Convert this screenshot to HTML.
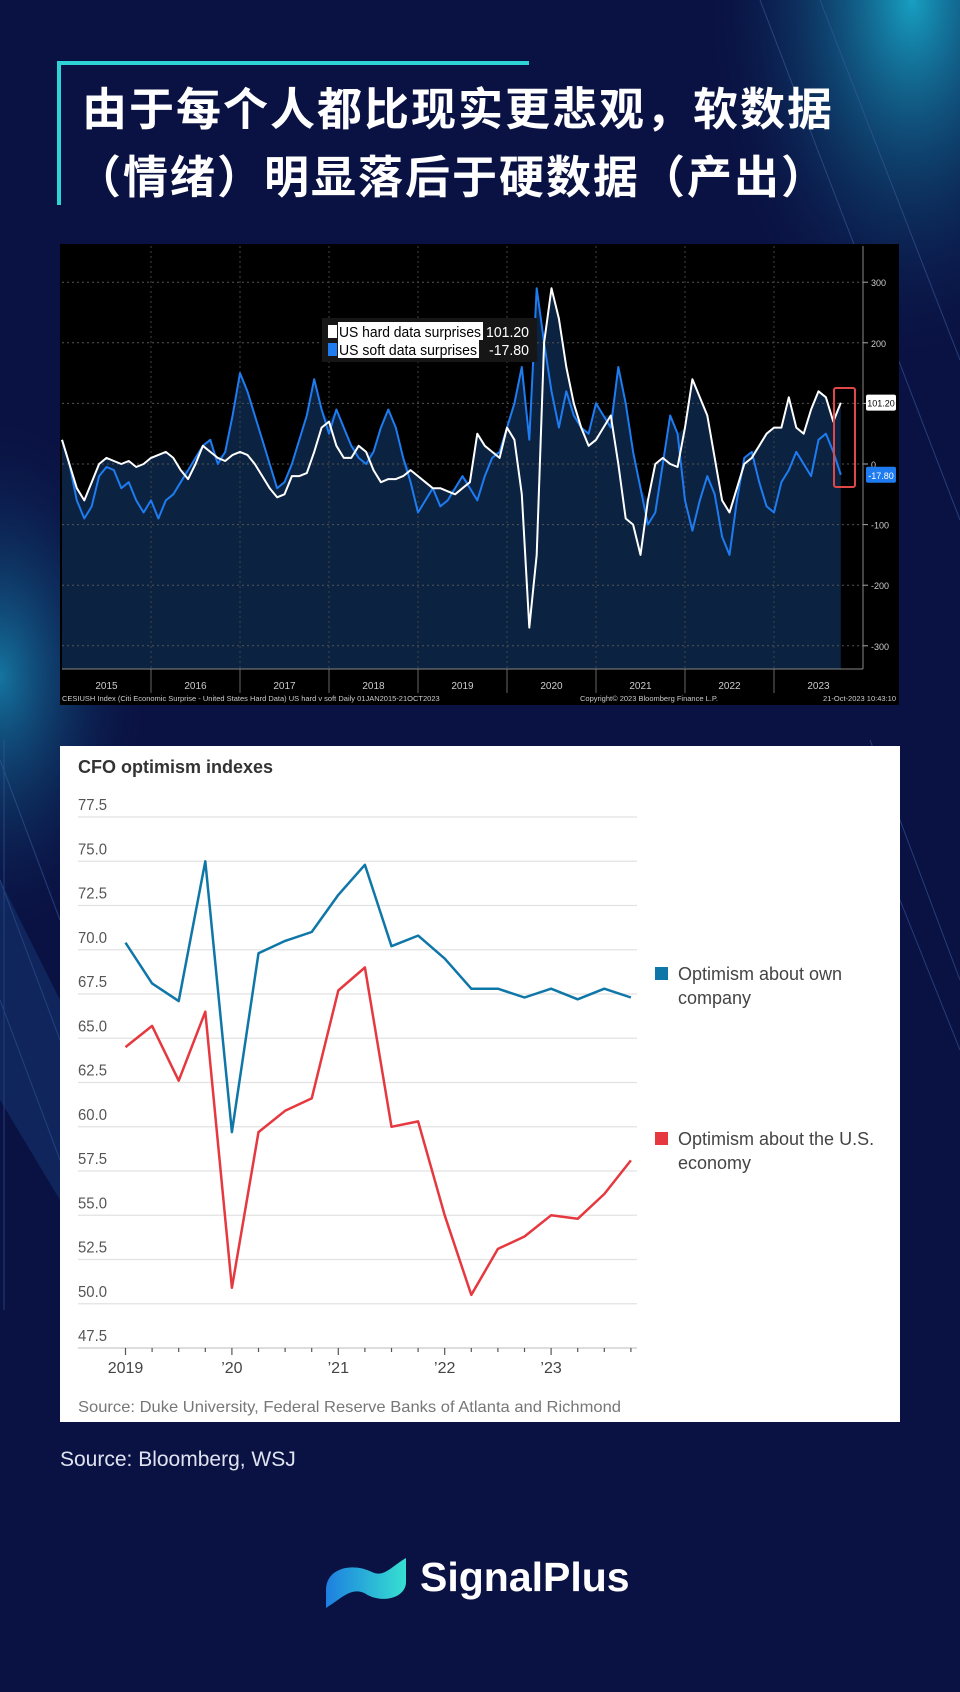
<!DOCTYPE html>
<html><head><meta charset="utf-8">
<style>
html,body{margin:0;padding:0;}
body{width:960px;height:1692px;position:relative;overflow:hidden;background:#0a1243;font-family:"Liberation Sans","Noto Sans CJK SC",sans-serif;}
.abs{position:absolute;}
</style></head>
<body>
<svg class="abs" style="left:0;top:0" width="960" height="1692">
<defs>
<radialGradient id="g1" cx="0.95" cy="0.0" r="0.22"><stop offset="0" stop-color="#1ab8d8" stop-opacity="0.85"/><stop offset="1" stop-color="#0a1243" stop-opacity="0"/></radialGradient>
<radialGradient id="g2" cx="0" cy="0.4" r="0.16"><stop offset="0" stop-color="#1a9fc8" stop-opacity="0.7"/><stop offset="1" stop-color="#0a1243" stop-opacity="0"/></radialGradient>
</defs>
<rect width="960" height="1692" fill="#0a1243"/>
<rect width="960" height="1692" fill="url(#g1)"/>
<rect width="960" height="1692" fill="url(#g2)"/>
<g stroke="#3a5a9a" stroke-width="1" opacity="0.6">
<line x1="760" y1="0" x2="960" y2="520"/><line x1="820" y1="0" x2="960" y2="360"/>
<line x1="870" y1="740" x2="960" y2="980"/><line x1="900" y1="900" x2="960" y2="1050"/>
<line x1="0" y1="760" x2="60" y2="920"/><line x1="0" y1="880" x2="60" y2="1040"/>
<line x1="0" y1="1000" x2="60" y2="1160"/><line x1="4" y1="740" x2="4" y2="1310"/>
</g>
<polygon points="0,880 60,1000 60,1200 0,1100" fill="#1a4a8a" opacity="0.35"/>
</svg>

<div class="abs" style="left:59px;top:61px;width:470px;height:4px;background:#2ed3d6"></div>
<div class="abs" style="left:57px;top:61px;width:4px;height:144px;background:#2ed3d6"></div>
<div class="abs" style="left:82px;top:76px;color:#fff;font-family:'Liberation Sans','Noto Sans CJK SC',sans-serif;font-weight:bold;font-size:45px;line-height:68px;letter-spacing:2px;white-space:nowrap;">由于每个人都比现实更悲观，软数据<br><span style="margin-left:-6px">（情绪）明显落后于硬数据（产出）</span></div>

<svg class="abs" id="bb" style="left:0;top:0" width="960" height="720"></svg>

<svg class="abs" id="cfo" style="left:0;top:0" width="960" height="1440"></svg>

<div class="abs" style="left:60px;top:1448px;color:#dfe3f0;font-size:21px;">Source: Bloomberg, WSJ</div>

<svg class="abs" style="left:322px;top:1548px" width="90" height="64">
<defs><linearGradient id="lg" x1="0" y1="0" x2="1" y2="0"><stop offset="0" stop-color="#1d7fe0"/><stop offset="1" stop-color="#36e0d0"/></linearGradient></defs>
<path d="M4,42 C4,20 30,14 50,24 C62,30 70,18 84,10 L84,34 C84,50 60,56 44,46 C30,38 20,50 4,60 Z" fill="url(#lg)"/>
</svg>
<div class="abs" style="left:420px;top:1554px;color:#fff;font-size:41px;font-weight:bold;">SignalPlus</div>

<script>
// ---------- Bloomberg chart data (monthly, Jan 2015 - Oct 2023) ----------
const hardData = [40,0,-40,-60,-30,0,10,5,0,5,-5,0,
 10,15,20,10,-10,-25,0,30,20,10,5,15,
 20,15,0,-20,-40,-55,-50,-20,-20,-15,20,60,
 70,30,10,10,30,20,-10,-30,-25,-25,-20,-10,
 -20,-30,-40,-40,-45,-50,-40,-30,50,30,20,10,
 60,40,-50,-270,-150,200,290,240,160,100,60,30,
 40,60,80,0,-90,-100,-150,-60,0,10,0,-5,
 60,140,110,80,10,-60,-80,-40,0,10,30,50,
 60,60,110,60,50,90,120,110,70,101.2];
const softData = [40,0,-60,-90,-70,-20,-5,-10,-40,-30,-60,-80,
 -60,-90,-60,-50,-30,-10,10,30,40,0,20,80,
 150,120,80,40,0,-40,-30,0,40,80,140,90,
 50,90,60,30,10,0,20,60,90,60,10,-30,
 -80,-60,-40,-70,-60,-40,-20,-40,-60,-20,10,20,
 60,100,160,40,290,200,120,60,120,80,60,50,
 100,80,60,160,100,20,-40,-100,-80,0,80,50,
 -60,-110,-60,-20,-50,-120,-150,-60,10,20,-30,-70,
 -80,-30,-10,20,0,-20,40,50,20,-17.8];
const bbYears = ["2015","2016","2017","2018","2019","2020","2021","2022","2023"];
const bbTicks = [300,200,100,0,-100,-200,-300];

const NS="http://www.w3.org/2000/svg";
function mk(parent,tag,attrs,text){const e=document.createElementNS(NS,tag);for(const k in attrs)e.setAttribute(k,attrs[k]);if(text!==undefined)e.textContent=text;parent.appendChild(e);return e;}

(function(){
 const svg=document.getElementById('bb');
 const L=62,R=863,T=246,B=669;
 const bx=i=>L+89*(i/12);
 const by=v=>464-v*0.606;
 let e=mk(svg,'rect',{x:60,y:244,width:839,height:461,fill:'#000'});
 
 
 let d2='M'+bx(0)+','+B;
 hardData.forEach((v,i)=>{d2+=' L'+bx(i).toFixed(1)+','+by(Math.max(v,softData[i])).toFixed(1);});
 d2+=' L'+bx(hardData.length-1).toFixed(1)+','+B+' Z';
 e=mk(svg,'path',{d:d2,fill:'#0b2240'});
 
 
 bbTicks.forEach(t=>{
  e=mk(svg,'line',{x1:L,x2:R,y1:by(t),y2:by(t),stroke:'#555',"stroke-dasharray":'2,3','stroke-width':1});
  
  
  e=mk(svg,'line',{x1:R,x2:R+5,y1:by(t),y2:by(t),stroke:'#aaa'});
  
  
  if(t!==100){
  e=mk(svg,'text',{x:R+8,y:by(t)+4,fill:'#ccc','font-size':9,'font-family':'Liberation Sans'},String(t));
  
  }
 });
 bbYears.forEach((y,k)=>{
  if(k>0){e=mk(svg,'line',{x1:bx(k*12),x2:bx(k*12),y1:T,y2:B,stroke:'#444',"stroke-dasharray":'2,3'});
  
  
  e=mk(svg,'line',{x1:bx(k*12),x2:bx(k*12),y1:B,y2:B+24,stroke:'#666'});
  
  }
  e=mk(svg,'text',{x:bx(k*12+6),y:689,fill:'#ccc','font-size':10,'text-anchor':'middle','font-family':'Liberation Sans'},y);
  
  
 });
 e=mk(svg,'line',{x1:R,x2:R,y1:T,y2:B,stroke:'#888'});
 
 
 e=mk(svg,'line',{x1:L,x2:R,y1:B,y2:B,stroke:'#888'});
 
 
 const line=(arr,col,name)=>{let p='';arr.forEach((v,i)=>{p+=(i?' L':'M')+bx(i).toFixed(1)+','+by(v).toFixed(1);});
  const el=mk(svg,'path',{d:p,fill:'none',stroke:col,'stroke-width':2,'stroke-linejoin':'round'});
  
  };
 line(softData,'#1e7cf0','soft-data-line');
 line(hardData,'#ffffff','hard-data-line');
 const lh=hardData[hardData.length-1], ls=softData[softData.length-1];
 e=mk(svg,'rect',{x:866,y:by(lh)-8,width:30,height:16,fill:'#fff',rx:2});
 
 
 e=mk(svg,'text',{x:881,y:by(lh)+4,fill:'#000','font-size':9,'text-anchor':'middle'},lh.toFixed(2));
 
 
 e=mk(svg,'rect',{x:866,y:by(ls)-8,width:30,height:16,fill:'#1e7cf0',rx:2});
 
 
 e=mk(svg,'text',{x:881,y:by(ls)+4,fill:'#fff','font-size':9,'text-anchor':'middle'},ls.toFixed(2));
 
 
 e=mk(svg,'rect',{x:834,y:388,width:21,height:99,fill:'none',stroke:'#e04848','stroke-width':2,rx:2});
 
 
 // legend
 e=mk(svg,'rect',{x:322,y:318,width:215,height:44,fill:'#161616'});
 
 
 e=mk(svg,'rect',{x:328,y:325,width:9,height:13,fill:'#fff'});
 
 
 mk(svg,'rect',{x:338,y:322,width:145,height:18,fill:'#fff'});
 e=mk(svg,'text',{x:339,y:337,fill:'#000','font-size':15,'textLength':142,'lengthAdjust':'spacingAndGlyphs'},'US hard data surprises');
 
 
 mk(svg,'text',{x:486,y:337,fill:'#fff','font-size':15,'textLength':43,'lengthAdjust':'spacingAndGlyphs'},'101.20');
 e=mk(svg,'rect',{x:328,y:343,width:9,height:13,fill:'#1e7cf0'});
 
 
 mk(svg,'rect',{x:338,y:340,width:141,height:18,fill:'#fff'});
 e=mk(svg,'text',{x:339,y:355,fill:'#000','font-size':15,'textLength':138,'lengthAdjust':'spacingAndGlyphs'},'US soft data surprises');
 
 
 mk(svg,'text',{x:489,y:355,fill:'#fff','font-size':15,'textLength':40,'lengthAdjust':'spacingAndGlyphs'},'-17.80');
 e=mk(svg,'text',{x:62,y:701,fill:'#ccc','font-size':7.5},'CESIUSH Index (Citi Economic Surprise - United States Hard Data) US hard v soft  Daily 01JAN2015-21OCT2023');
 
 
 mk(svg,'text',{x:580,y:701,fill:'#ccc','font-size':7.5},'Copyright© 2023 Bloomberg Finance L.P.');
 mk(svg,'text',{x:896,y:701,fill:'#ccc','font-size':7.5,'text-anchor':'end'},'21-Oct-2023 10:43:10');
})();

// ---------- CFO chart data ----------
const cfoOwn = [70.4,68.1,67.1,75.0,59.7,69.8,70.5,71.0,73.1,74.8,70.2,70.8,69.5,67.8,67.8,67.3,67.8,67.2,67.8,67.3];
const cfoEcon = [64.5,65.7,62.6,66.5,50.9,59.7,60.9,61.6,67.7,69.0,60.0,60.3,55.0,50.5,53.1,53.8,55.0,54.8,56.2,58.1];
const cfoTicks = [77.5,75.0,72.5,70.0,67.5,65.0,62.5,60.0,57.5,55.0,52.5,50.0,47.5];
const cfoXLabels = ["2019","’20","’21","’22","’23"];

(function(){
 const svg=document.getElementById('cfo');
 const cx=i=>125.5+26.6*i;
 const cy=v=>817+(77.5-v)*17.7;
 let e=mk(svg,'rect',{x:60,y:746,width:840,height:676,fill:'#fff'});
 
 
 e=mk(svg,'text',{x:78,y:773,fill:'#333','font-size':18,'font-weight':'bold','font-family':'Liberation Sans'},'CFO optimism indexes');
 
 
 cfoTicks.forEach(t=>{
  if(t!==47.5){e=mk(svg,'line',{x1:78,x2:637,y1:cy(t),y2:cy(t),stroke:'#e2e2e2','stroke-width':1.2});
  
  }
  e=mk(svg,'text',{x:78,y:cy(t)-7,fill:'#555','font-size':16,'textLength':29,'lengthAdjust':'spacingAndGlyphs'},t.toFixed(1));
  
  
 });
 e=mk(svg,'line',{x1:78,x2:637,y1:cy(47.5),y2:cy(47.5),stroke:'#bbb','stroke-width':1});
 
 
 cfoOwn.forEach((v,i)=>{
  e=mk(svg,'line',{x1:cx(i),x2:cx(i),y1:cy(47.5),y2:cy(47.5)+(i%4===0?7:4),stroke:'#555','stroke-width':1.2});
  
  
 });
 cfoXLabels.forEach((l,k)=>{
  e=mk(svg,'text',{x:cx(k*4),y:1373,fill:'#444','font-size':16,'text-anchor':'middle'},l);
  
  
 });
 const line=(arr,col,name)=>{let p='';arr.forEach((v,i)=>{p+=(i?' L':'M')+cx(i).toFixed(1)+','+cy(v).toFixed(1);});
  const el=mk(svg,'path',{d:p,fill:'none',stroke:col,'stroke-width':2.5,'stroke-linejoin':'round'});
  
  };
 line(cfoOwn,'#0f76a8','own-company-line');
 line(cfoEcon,'#e5383f','us-economy-line');
 e=mk(svg,'rect',{x:655,y:967,width:13,height:13,fill:'#0f76a8'});
 
 
 e=mk(svg,'text',{x:678,y:980,fill:'#444','font-size':18},'Optimism about own');
 
 
 mk(svg,'text',{x:678,y:1004,fill:'#444','font-size':18},'company');
 e=mk(svg,'rect',{x:655,y:1132,width:13,height:13,fill:'#e5383f'});
 
 
 e=mk(svg,'text',{x:678,y:1145,fill:'#444','font-size':18},'Optimism about the U.S.');
 
 
 mk(svg,'text',{x:678,y:1169,fill:'#444','font-size':18},'economy');
 e=mk(svg,'text',{x:78,y:1412,fill:'#777','font-size':16,'textLength':543,'lengthAdjust':'spacingAndGlyphs'},'Source: Duke University, Federal Reserve Banks of Atlanta and Richmond');
 
 
})();
</script>
</body></html>
